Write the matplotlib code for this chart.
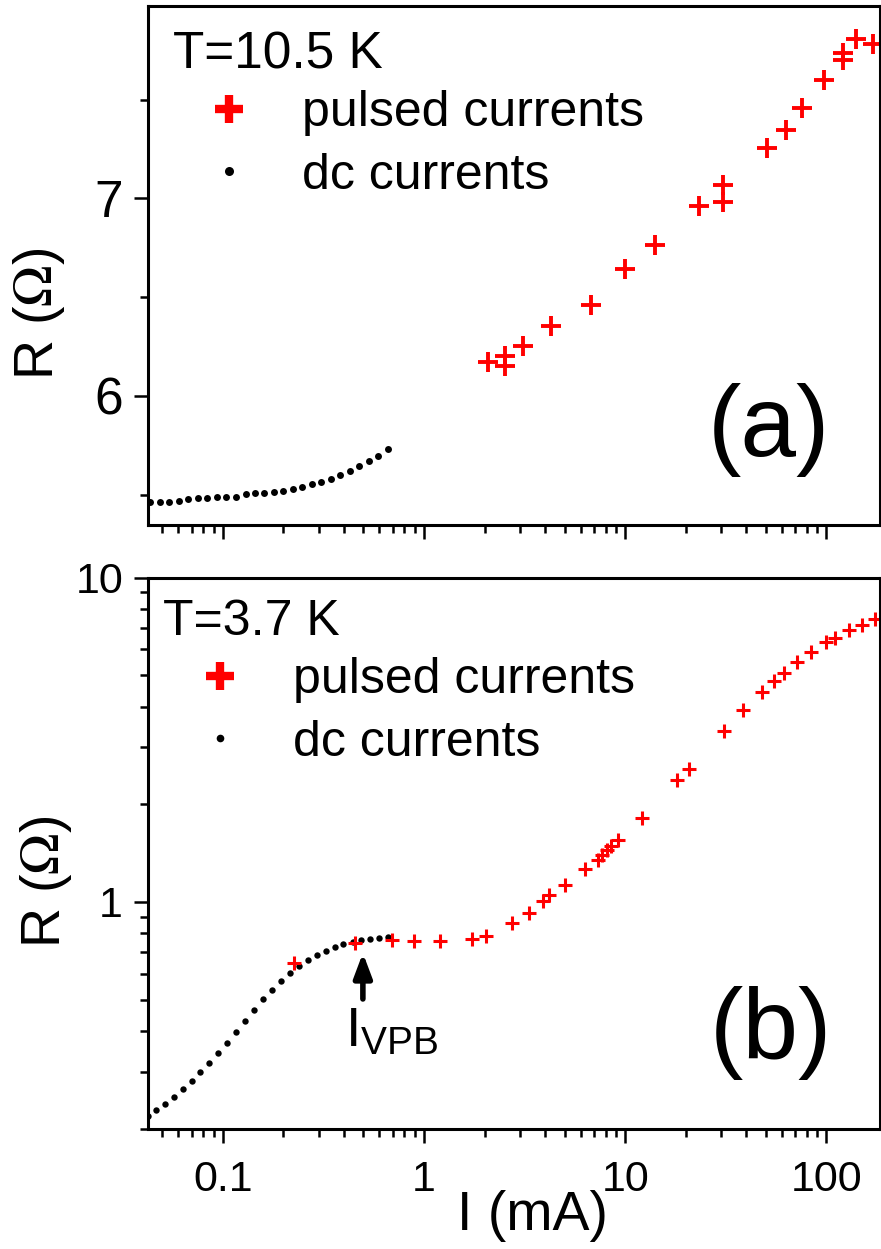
import matplotlib
matplotlib.use("Agg")
import matplotlib.pyplot as plt
from matplotlib.lines import Line2D
from matplotlib.ticker import LogLocator, FixedLocator, NullFormatter, MultipleLocator

plt.rcParams['font.family'] = ['Liberation Sans', 'DejaVu Sans']
plt.rcParams['mathtext.fontset'] = 'stix'

# ---- panel (a), T = 10.5 K ----
a_pulsed_I = [2.09, 2.53, 2.53, 3.12, 4.28, 6.75, 10.0, 14.1, 23.4, 30.8, 30.8,
              50.7, 63.2, 75.7, 97.7, 121, 121, 141, 171]
a_pulsed_R = [6.172, 6.203, 6.152, 6.253, 6.354, 6.459, 6.643, 6.765, 6.962, 6.984, 7.068,
              7.257, 7.347, 7.457, 7.600, 7.701, 7.735, 7.806, 7.782]

a_dc_I = [0.0433, 0.0486, 0.0541, 0.0607, 0.0675, 0.0753, 0.0839, 0.0937, 0.1043, 0.1164,
          0.1301, 0.1448, 0.1611, 0.1794, 0.1995, 0.2223, 0.2481, 0.2761, 0.3083, 0.3433,
          0.3835, 0.4285, 0.4766, 0.5321, 0.5926, 0.6597]
a_dc_R = [5.465, 5.465, 5.465, 5.470, 5.477, 5.482, 5.485, 5.489, 5.487, 5.490,
          5.502, 5.507, 5.510, 5.514, 5.520, 5.531, 5.538, 5.553, 5.566, 5.580,
          5.598, 5.622, 5.646, 5.671, 5.695, 5.732]

# ---- panel (b), T = 3.7 K ----
b_pulsed_I = [0.2255, 0.4536, 0.697, 0.897, 1.201, 1.727, 2.023, 2.741, 3.330, 3.908, 4.202,
              5.030, 6.324, 7.298, 7.685, 8.136, 8.518, 9.177, 12.11, 18.08, 20.82,
              30.83, 38.51, 47.66, 55.12, 61.33, 71.15, 84.22, 100.0, 110.2, 129.1, 150.5, 175.3]
b_pulsed_R = [0.6466, 0.7468, 0.7631, 0.756, 0.7576, 0.7685, 0.7834, 0.8639, 0.9275, 1.003, 1.050,
              1.124, 1.263, 1.347, 1.395, 1.446, 1.487, 1.547, 1.814, 2.376, 2.575,
              3.365, 3.898, 4.439, 4.799, 5.062, 5.493, 5.909, 6.348, 6.522, 6.883, 7.163, 7.432]

b_dc_I = [0.0426, 0.04647, 0.05145, 0.05696, 0.06317, 0.06997, 0.07745, 0.08586, 0.09508, 0.1053,
          0.1167, 0.1293, 0.1431, 0.1587, 0.1757, 0.1946, 0.2154, 0.2388, 0.2645, 0.2929,
          0.3247, 0.3595, 0.3981, 0.4414, 0.4887, 0.5412, 0.5999, 0.6645]
b_dc_R = [0.2187, 0.2282, 0.2380, 0.2503, 0.2649, 0.2804, 0.2988, 0.3186, 0.3420, 0.3672,
          0.3970, 0.4293, 0.4642, 0.5007, 0.5369, 0.5703, 0.6021, 0.6344, 0.6621, 0.6859,
          0.7072, 0.7244, 0.7415, 0.7537, 0.7628, 0.7699, 0.7754, 0.7778]

x_ticks = [0.1, 1, 10, 100]
x_ticklabels = ["0.1", "1", "10", "100"]

# I_VPB marker: arrow from tail to tip, label below
vpb_I = 0.497
vpb_tip_R, vpb_tail_R = 0.696, 0.502
vpb_label_I, vpb_label_R = 0.4045, 0.4775

fig = plt.figure(figsize=(8.81, 12.49), dpi=100)
ax_a = fig.add_axes([0.168, 0.580, 0.831, 0.4152])
ax_b = fig.add_axes([0.168, 0.0961, 0.831, 0.4415])

for ax in (ax_a, ax_b):
    ax.set_xscale('log')
    ax.set_xlim(0.0425, 185)
    for sp in ax.spines.values():
        sp.set_linewidth(2.2)
    ax.tick_params(which='both', direction='out', top=False, right=False, width=1.8)
    ax.tick_params(which='major', length=10)
    ax.tick_params(which='minor', length=6)
    ax.xaxis.set_major_locator(FixedLocator(x_ticks))
    ax.xaxis.set_minor_locator(LogLocator(base=10, subs=range(2, 10)))
    ax.xaxis.set_minor_formatter(NullFormatter())

# panel (a)
ax_a.plot(a_dc_I, a_dc_R, ls='none', marker='o', ms=5.0, color='black', mew=0)
ax_a.plot(a_pulsed_I, a_pulsed_R, ls='none', marker='+', ms=14, mew=2.8, color='red')
ax_a.set_ylim(5.349, 7.974)
ax_a.yaxis.set_major_locator(FixedLocator([6, 7]))
ax_a.yaxis.set_minor_locator(MultipleLocator(0.5))
ax_a.set_yticklabels(["6", "7"])
ax_a.tick_params(axis='y', labelsize=37, pad=8)
ax_a.set_xticklabels([])
ax_a.set_ylabel(r'R ($\Omega$)', fontsize=40, va='center')
ax_a.yaxis.set_label_coords(-0.149, 0.406)
ax_a.text(0.034, 0.880, "T=10.5 K", transform=ax_a.transAxes, fontsize=37, va='baseline')
ax_a.text(0.848, 0.182, "(a)", transform=ax_a.transAxes, fontsize=72, ha='center', va='center')

handles_a = [Line2D([], [], ls='none', marker='+', ms=20, mew=6, color='red'),
             Line2D([], [], ls='none', marker='o', ms=6.5, mew=0, color='black')]
ax_a.legend(handles_a, ["pulsed currents", "dc currents"], loc='upper left',
            bbox_to_anchor=(0.0765, 0.838), frameon=False, fontsize=36,
            handlelength=1.0, handletextpad=0.96, labelspacing=0.33,
            borderpad=0, borderaxespad=0)

# panel (b)
ax_b.set_yscale('log')
ax_b.plot(b_dc_I, b_dc_R, ls='none', marker='o', ms=4.6, color='black', mew=0)
ax_b.plot(b_pulsed_I, b_pulsed_R, ls='none', marker='+', ms=10.5, mew=2.2, color='red')
ax_b.set_ylim(0.1995, 10)
ax_b.yaxis.set_major_locator(FixedLocator([1, 10]))
ax_b.yaxis.set_minor_locator(LogLocator(base=10, subs=range(2, 10)))
ax_b.yaxis.set_minor_formatter(NullFormatter())
ax_b.set_yticklabels(["1", "10"])
ax_b.set_xticklabels(x_ticklabels)
ax_b.tick_params(axis='y', labelsize=31, pad=8)
ax_b.tick_params(axis='x', labelsize=31, pad=12)
ax_b.set_ylabel(r'R ($\Omega$)', fontsize=40, va='center')
ax_b.yaxis.set_label_coords(-0.139, 0.448)
ax_b.set_xlabel("I (mA)", fontsize=40, va='center')
ax_b.xaxis.set_label_coords(0.525, -0.158)
ax_b.text(0.02, 0.896, "T=3.7 K", transform=ax_b.transAxes, fontsize=36, va='baseline')
ax_b.text(0.851, 0.174, "(b)", transform=ax_b.transAxes, fontsize=72, ha='center', va='center')

ax_b.annotate('', xy=(vpb_I, vpb_tip_R), xytext=(vpb_I, vpb_tail_R),
              arrowprops=dict(arrowstyle='-|>,head_length=0.8,head_width=0.3',
                              mutation_scale=18, lw=4, color='black',
                              shrinkA=0, shrinkB=0))
ax_b.text(vpb_label_I, vpb_label_R, r'$\mathregular{I_{VPB}}$', fontsize=40,
          ha='left', va='top')

handles_b = [Line2D([], [], ls='none', marker='+', ms=20, mew=6, color='red'),
             Line2D([], [], ls='none', marker='o', ms=5.5, mew=0, color='black')]
ax_b.legend(handles_b, ["pulsed currents", "dc currents"], loc='upper left',
            bbox_to_anchor=(0.064, 0.855), frameon=False, fontsize=36,
            handlelength=1.0, handletextpad=0.96, labelspacing=0.33,
            borderpad=0, borderaxespad=0)

fig.savefig("out.png", dpi=100)
